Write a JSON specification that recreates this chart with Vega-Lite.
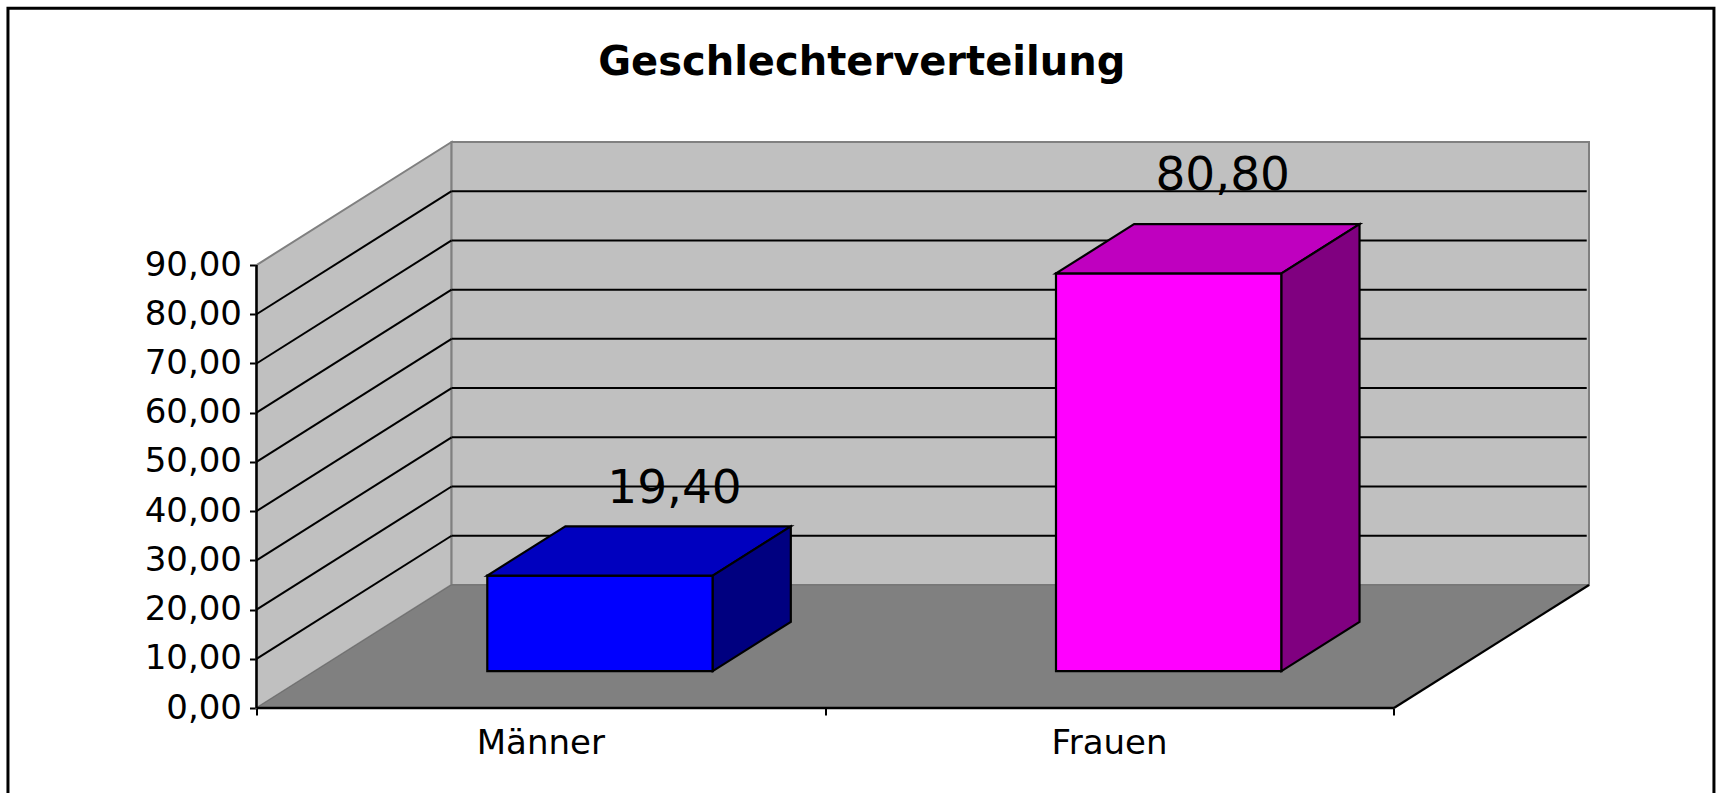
{
"$schema":"https://vega.github.io/schema/vega-lite/v6.json",
"width":1332.5,"height":566,
"autosize":{"type":"none"},
"padding":{"left":256.5,"top":142,"right":128,"bottom":85},
"background":"white",
"config":{"view":{"stroke":null},"font":"DejaVu Sans"},
"title":{"text":"Geschlechterverteilung","font":"DejaVu Sans","fontWeight":"bold","fontSize":40,"color":"black","anchor":"middle","frame":"group","dx":-61,"offset":-108,"baseline":"alphabetic"},
"datasets":{
"bars":[{"category":"Männer","index":0,"value":19.4},{"category":"Frauen","index":1,"value":80.8}],
"ticks":[{"tick":10},{"tick":20},{"tick":30},{"tick":40},{"tick":50},{"tick":60},{"tick":70},{"tick":80}],
"edges":[{"depth":0},{"depth":1}],
"single":[{"part":"frame"}]
},
"resolve":{"scale":{"fill":"independent"}},
"layer":[
{"data":{"name":"edges"},"transform":[{"calculate":"datum.depth*0.343","as":"px"},{"calculate":"90+datum.depth*25","as":"top"},{"calculate":"datum.depth*25","as":"bottom"}],
 "mark":{"type":"area","fill":"#C0C0C0","stroke":"#808080","strokeWidth":2},
 "encoding":{
 "x":{"field":"px","type":"quantitative","title":null,"scale":{"domain":[0,2.343],"nice":false,"zero":false},"axis":{"values":[0,1,2],"labels":false,"domain":false,"grid":false,"ticks":true,"tickSize":7,"tickWidth":2,"tickColor":"black","title":null}},
 "y":{"field":"top","type":"quantitative","title":null,"scale":{"domain":[0,115],"nice":false,"zero":false},"axis":{"values":[0,10,20,30,40,50,60,70,80,90],"labelExpr":"replace(format(datum.value,'.2f'),'.',',')","labelFont":"DejaVu Sans","labelFontSize":34,"labelColor":"black","labelPadding":8,"domain":false,"grid":false,"tickSize":7,"tickWidth":2,"tickColor":"black","title":null}},
 "y2":{"field":"bottom"}}},
{"data":{"name":"single"},"mark":{"type":"rect","fill":"#C0C0C0","stroke":"#808080","strokeWidth":2},
 "encoding":{
 "x":{"datum":0.343,"type":"quantitative","title":null,"scale":{"domain":[0,2.343],"nice":false,"zero":false}},
 "x2":{"datum":2.343},
 "y":{"datum":25,"type":"quantitative","title":null,"scale":{"domain":[0,115],"nice":false,"zero":false}},
 "y2":{"datum":115}}},
{"data":{"name":"edges"},"transform":[{"calculate":"datum.depth*0.343","as":"px"},{"calculate":"2+datum.depth*0.343","as":"px2"},{"calculate":"datum.depth*25","as":"py"}],
 "mark":{"type":"area","orient":"horizontal","fill":"#808080","stroke":"#707070","strokeWidth":1},
 "encoding":{
 "y":{"field":"py","type":"quantitative","title":null,"scale":{"domain":[0,115],"nice":false,"zero":false}},
 "x":{"field":"px","type":"quantitative","title":null,"scale":{"domain":[0,2.343],"nice":false,"zero":false}},
 "x2":{"field":"px2"}}},
{"data":{"name":"ticks"},"transform":[{"calculate":"datum.tick+25","as":"back"}],
 "mark":{"type":"rule","color":"black","strokeWidth":2},
 "encoding":{
 "x":{"datum":0,"type":"quantitative","title":null,"scale":{"domain":[0,2.343],"nice":false,"zero":false}},
 "x2":{"datum":0.343},
 "y":{"field":"tick","type":"quantitative","title":null,"scale":{"domain":[0,115],"nice":false,"zero":false}},
 "y2":{"field":"back"}}},
{"data":{"name":"ticks"},"transform":[{"calculate":"datum.tick+25","as":"back"}],
 "mark":{"type":"rule","color":"black","strokeWidth":2},
 "encoding":{
 "x":{"datum":0.343,"type":"quantitative","title":null,"scale":{"domain":[0,2.343],"nice":false,"zero":false}},
 "x2":{"datum":2.339},
 "y":{"field":"back","type":"quantitative","title":null,"scale":{"domain":[0,115],"nice":false,"zero":false}}}},
{"data":{"name":"single"},"mark":{"type":"rule","color":"black","strokeWidth":2.2},
 "encoding":{
 "x":{"datum":2,"type":"quantitative","title":null,"scale":{"domain":[0,2.343],"nice":false,"zero":false}},
 "x2":{"datum":2.343},
 "y":{"datum":0,"type":"quantitative","title":null,"scale":{"domain":[0,115],"nice":false,"zero":false}},
 "y2":{"datum":25}}},
{"data":{"name":"single"},"mark":{"type":"rule","color":"black","strokeWidth":2.5},
 "encoding":{
 "x":{"datum":0,"type":"quantitative","title":null,"scale":{"domain":[0,2.343],"nice":false,"zero":false}},
 "x2":{"datum":2},
 "y":{"datum":0,"type":"quantitative","title":null,"scale":{"domain":[0,115],"nice":false,"zero":false}}}},
{"data":{"name":"single"},"mark":{"type":"rule","color":"black","strokeWidth":2.5},
 "encoding":{
 "x":{"datum":0,"type":"quantitative","title":null,"scale":{"domain":[0,2.343],"nice":false,"zero":false}},
 "y":{"datum":0,"type":"quantitative","title":null,"scale":{"domain":[0,115],"nice":false,"zero":false}},
 "y2":{"datum":90}}},
{"data":{"name":"bars"},"transform":[{"calculate":"datum.index+0.4058","as":"x0"},{"calculate":"datum.index+0.8023","as":"x1"},{"calculate":"datum.value+7.5","as":"front"},{"calculate":"7.5","as":"base"}],
 "mark":{"type":"rect","stroke":"black","strokeWidth":2.2},
 "encoding":{
 "x":{"field":"x0","type":"quantitative","title":null,"scale":{"domain":[0,2.343],"nice":false,"zero":false}},
 "x2":{"field":"x1"},
 "y":{"field":"front","type":"quantitative","title":null,"scale":{"domain":[0,115],"nice":false,"zero":false}},
 "y2":{"field":"base"},
 "fill":{"field":"category","type":"nominal","scale":{"domain":["Männer","Frauen"],"range":["#0000FF","#FF00FF"]},"legend":null}}},
{"data":{"name":"bars"},"transform":[{"calculate":"[0.3,0.7]","as":"depth"},{"flatten":["depth"]},{"calculate":"datum.index+0.4058+(datum.depth-0.3)*0.343","as":"x0"},{"calculate":"datum.index+0.8023+(datum.depth-0.3)*0.343","as":"x1"},{"calculate":"datum.value+datum.depth*25","as":"level"}],
 "mark":{"type":"area","orient":"horizontal","stroke":"black","strokeWidth":2.2},
 "encoding":{
 "detail":{"field":"category"},
 "y":{"field":"level","type":"quantitative","title":null,"scale":{"domain":[0,115],"nice":false,"zero":false}},
 "x":{"field":"x0","type":"quantitative","title":null,"scale":{"domain":[0,2.343],"nice":false,"zero":false}},
 "x2":{"field":"x1"},
 "fill":{"field":"category","type":"nominal","scale":{"domain":["Männer","Frauen"],"range":["#0000BF","#BF00BF"]},"legend":null}}},
{"data":{"name":"bars"},"transform":[{"calculate":"[0.3,0.7]","as":"depth"},{"flatten":["depth"]},{"calculate":"datum.index+0.8023+(datum.depth-0.3)*0.343","as":"sx"},{"calculate":"datum.value+datum.depth*25","as":"top"},{"calculate":"datum.depth*25","as":"bottom"}],
 "mark":{"type":"area","stroke":"black","strokeWidth":2.2},
 "encoding":{
 "detail":{"field":"category"},
 "x":{"field":"sx","type":"quantitative","title":null,"scale":{"domain":[0,2.343],"nice":false,"zero":false}},
 "y":{"field":"top","type":"quantitative","title":null,"scale":{"domain":[0,115],"nice":false,"zero":false}},
 "y2":{"field":"bottom"},
 "fill":{"field":"category","type":"nominal","scale":{"domain":["Männer","Frauen"],"range":["#000080","#800080"]},"legend":null}}},
{"data":{"name":"bars"},"transform":[{"calculate":"datum.index+0.735-datum.index*0.036","as":"lx"},{"calculate":"datum.value+25+datum.index*2.3","as":"ly"},{"calculate":"replace(format(datum.value,'.2f'),'.',',')","as":"label"}],
 "mark":{"type":"text","font":"DejaVu Sans","fontSize":47,"color":"black","baseline":"middle","align":"center"},
 "encoding":{
 "x":{"field":"lx","type":"quantitative","title":null,"scale":{"domain":[0,2.343],"nice":false,"zero":false}},
 "y":{"field":"ly","type":"quantitative","title":null,"scale":{"domain":[0,115],"nice":false,"zero":false}},
 "text":{"field":"label"}}},
{"data":{"name":"bars"},"transform":[{"calculate":"datum.index+0.5","as":"lx"},{"calculate":"0","as":"ly"}],
 "mark":{"type":"text","font":"DejaVu Sans","fontSize":34,"color":"black","baseline":"middle","align":"center","dy":36},
 "encoding":{
 "x":{"field":"lx","type":"quantitative","title":null,"scale":{"domain":[0,2.343],"nice":false,"zero":false}},
 "y":{"field":"ly","type":"quantitative","title":null,"scale":{"domain":[0,115],"nice":false,"zero":false}},
 "text":{"field":"category"}}},
{"data":{"name":"single"},"mark":{"type":"rect","fill":null,"stroke":"black","strokeWidth":3},
 "encoding":{
 "x":{"datum":-0.437,"type":"quantitative","title":null,"scale":{"domain":[0,2.343],"nice":false,"zero":false}},
 "x2":{"datum":2.5627},
 "y":{"datum":142.2,"type":"quantitative","title":null,"scale":{"domain":[0,115],"nice":false,"zero":false}},
 "y2":{"datum":-30}}}
]
}
